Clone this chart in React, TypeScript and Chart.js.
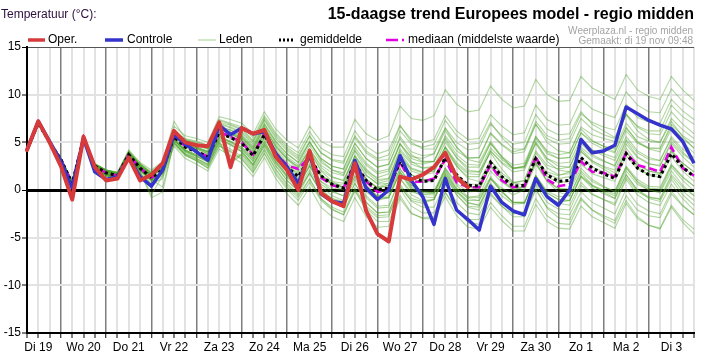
import React, { useEffect, useRef } from 'react';
import { Chart, registerables } from 'chart.js';

Chart.register(...registerables);

// ---------- data ----------
const dayLabels = ['Di 19', 'Wo 20', 'Do 21', 'Vr 22', 'Za 23', 'Zo 24', 'Ma 25', 'Di 26', 'Wo 27', 'Do 28', 'Vr 29', 'Za 30', 'Zo 1', 'Ma 2', 'Di 3'];
const slotCount = 60; // 6-hourly, starting Di 19 06:00
const firstSlotHour = 6;
const yTicks = [-15, -10, -5, 0, 5, 10, 15];

const titleText = '15-daagse trend Europees model - regio midden';
const unitText = 'Temperatuur (°C):';
const sourceText = 'Weerplaza.nl - regio midden';
const madeText = 'Gemaakt: di 19 nov 09:48';
const legendLabels = ['Oper.', 'Controle', 'Leden', 'gemiddelde', 'mediaan (middelste waarde)'];

const oper = [4.2, 7.2, 5.0, 2.5, -1.0, 5.6, 2.4, 1.0, 1.2, 3.4, 1.0, 1.6, 2.8, 6.2, 5.0, 4.7, 4.6, 7.1, 2.4, 6.5, 5.9, 6.3, 3.5, 2.1, 0.0, 4.1, -0.3, -1.2, -1.7, 2.8, -2.2, -4.6, -5.4, 1.4, 1.1, 1.6, 2.4, 3.9, 1.3, 0.3];
const controle = [4.2, 7.2, 5.1, 3.0, 0.2, 5.4, 1.9, 1.1, 1.4, 3.4, 1.4, 0.4, 2.1, 5.8, 4.8, 4.0, 3.1, 6.8, 5.8, 6.5, 5.9, 6.1, 3.8, 2.4, 0.7, 3.8, -0.4, -1.2, -1.4, 3.1, 0.2, -1.0, 0.0, 3.6, 1.0, -0.7, -3.6, 1.2, -2.1, -3.1, -4.2, 0.4, -1.3, -2.2, -2.6, 1.2, -0.7, -1.6, 0.0, 5.3, 3.9, 4.1, 4.7, 8.7, 8.0, 7.3, 6.8, 6.4, 5.1, 2.8];
const gemiddelde = [4.2, 7.0, 5.0, 3.2, 0.7, 5.4, 2.5, 1.8, 1.5, 3.7, 2.3, 1.3, 2.1, 5.6, 4.5, 4.0, 3.5, 6.0, 5.5, 4.9, 3.6, 5.8, 3.8, 2.4, 1.4, 3.4, 1.5, 0.6, 0.2, 2.8, 1.0, 0.0, 0.2, 3.0, 1.4, 0.9, 1.0, 3.4, 1.6, 0.5, 0.4, 2.9, 1.4, 0.4, 0.5, 3.3, 1.6, 0.9, 1.0, 3.4, 2.3, 1.7, 1.2, 3.8, 2.3, 1.6, 1.4, 3.8, 2.4, 1.4];
const mediaan = [4.2, 7.0, 5.0, 3.2, 0.7, 5.4, 2.5, 1.8, 1.5, 3.7, 2.3, 1.3, 2.0, 5.6, 4.6, 4.1, 3.5, 6.1, 5.6, 5.0, 3.7, 5.9, 3.9, 2.6, 2.2, 3.5, 1.3, 0.5, 0.2, 2.7, 0.9, -0.2, 0.0, 2.9, 0.8, 0.9, 1.2, 3.2, 0.8, 0.3, 0.3, 2.6, 1.0, 0.3, 0.4, 3.5, 1.1, 0.4, 0.6, 3.0, 1.9, 1.8, 1.4, 3.9, 2.6, 2.3, 1.9, 4.5, 2.3, 1.5];

const lid01 = [4.2, 7.0, 5.1, 3.3, 0.9, 5.6, 2.7, 2.1, 1.8, 4.1, 2.8, 1.9, 2.8, 6.3, 5.3, 4.9, 4.5, 7.1, 6.8, 6.3, 5.1, 7.4, 5.6, 4.3, 3.4, 5.6, 3.9, 3.2, 3.0, 5.7, 4.1, 3.3, 3.7, 6.7, 5.3, 5.0, 5.3, 7.8, 6.2, 5.3, 5.4, 7.9, 6.7, 5.8, 6.0, 8.9, 7.4, 6.8, 6.9, 9.5, 8.5, 8.0, 7.6, 10.3, 8.9, 8.2, 8.1, 10.6, 9.3, 8.4];
const lid02 = [4.2, 7.0, 4.9, 3.1, 0.5, 5.2, 2.3, 1.5, 1.2, 3.3, 1.8, 0.7, 1.5, 4.9, 3.7, 3.1, 2.5, 4.9, 4.3, 3.5, 2.1, 4.2, 2.1, 0.5, -0.6, 1.2, -0.9, -2.0, -2.6, -0.1, -2.1, -3.3, -3.3, -0.6, -2.4, -3.0, -3.0, -0.7, -2.7, -3.9, -4.1, -1.8, -3.2, -4.3, -4.3, -1.5, -3.3, -4.0, -4.1, -1.7, -2.8, -3.4, -4.0, -1.4, -3.0, -3.7, -4.0, -1.6, -3.1, -4.1];
const lid03 = [4.3, 7.2, 5.1, 3.3, 0.9, 5.6, 2.6, 2.0, 1.7, 3.9, 2.6, 1.6, 2.5, 6.0, 4.9, 4.5, 4.0, 6.6, 6.3, 5.8, 4.6, 6.9, 5.1, 3.8, 2.9, 5.0, 3.3, 2.5, 2.2, 4.9, 3.3, 2.4, 2.7, 5.6, 4.0, 3.6, 3.8, 6.2, 4.5, 3.4, 3.4, 5.9, 4.7, 3.8, 4.0, 6.9, 5.4, 4.8, 4.9, 7.5, 6.4, 5.8, 5.4, 8.0, 6.6, 5.9, 5.8, 8.2, 6.9, 5.9];
const lid04 = [4.1, 6.9, 4.9, 3.1, 0.6, 5.3, 2.3, 1.6, 1.3, 3.5, 2.0, 1.0, 1.8, 5.2, 4.1, 3.5, 3.0, 5.4, 4.8, 4.0, 2.6, 4.7, 2.6, 1.0, -0.1, 1.8, -0.3, -1.3, -1.8, 0.7, -1.3, -2.4, -2.3, 0.4, -1.2, -1.8, -1.8, 0.6, -1.3, -2.4, -2.6, -0.3, -1.7, -2.8, -2.8, 0.0, -1.8, -2.5, -2.6, -0.2, -1.3, -1.9, -2.5, 0.1, -1.5, -2.2, -2.5, -0.1, -1.6, -2.6];
const lid05 = [4.2, 7.1, 5.0, 3.2, 0.8, 5.5, 2.6, 1.9, 1.6, 3.8, 2.5, 1.5, 2.3, 5.8, 4.8, 4.3, 3.8, 6.3, 5.9, 5.3, 4.0, 6.2, 4.3, 2.9, 1.9, 4.0, 2.1, 1.3, 1.0, 3.6, 1.9, 0.9, 1.2, 4.1, 2.7, 2.3, 2.5, 5.0, 3.4, 2.4, 2.4, 4.9, 3.5, 2.6, 2.8, 5.6, 4.0, 3.3, 3.4, 6.0, 4.9, 4.3, 3.9, 6.5, 5.1, 4.4, 4.3, 6.7, 5.4, 4.4];
const lid06 = [4.2, 6.9, 5.0, 3.2, 0.6, 5.3, 2.4, 1.7, 1.4, 3.6, 2.1, 1.1, 1.9, 5.4, 4.2, 3.7, 3.2, 5.7, 5.1, 4.5, 3.2, 5.4, 3.4, 1.9, 0.9, 2.8, 0.9, -0.1, -0.6, 2.0, 0.1, -0.9, -0.8, 1.9, 0.3, -0.3, -0.3, 2.1, 0.2, -0.9, -1.1, 1.2, -0.2, -1.3, -1.3, 1.5, -0.3, -1.0, -1.1, 1.4, 0.2, -0.4, -0.9, 1.6, 0.0, -0.7, -1.0, 1.4, -0.1, -1.1];
const lid07 = [4.2, 7.0, 5.1, 3.3, 0.9, 5.6, 2.7, 2.1, 1.8, 4.1, 2.7, 1.8, 2.7, 6.2, 5.2, 4.7, 4.3, 6.6, 6.0, 5.2, 3.8, 5.8, 3.6, 2.1, 0.9, 3.2, 1.5, 0.9, 0.7, 3.6, 2.0, 1.3, 1.7, 4.8, 3.5, 3.3, 3.8, 6.5, 5.0, 4.2, 4.4, 6.9, 5.7, 4.8, 5.0, 7.9, 6.4, 5.8, 5.9, 8.2, 6.9, 6.2, 5.5, 7.9, 6.2, 5.3, 5.0, 7.2, 5.6, 4.4];
const lid08 = [4.2, 7.0, 4.9, 3.1, 0.6, 5.3, 2.3, 1.6, 1.3, 3.6, 2.3, 1.4, 2.3, 5.8, 4.8, 4.4, 4.0, 6.6, 6.1, 5.6, 4.4, 6.6, 4.7, 3.3, 2.4, 4.2, 2.0, 0.9, 0.2, 2.6, 0.5, -0.8, -0.8, 1.9, 0.2, -0.5, -0.5, 1.8, -0.2, -1.4, -1.6, 1.2, 0.2, -0.5, 0.0, 3.2, 1.9, 1.5, 1.9, 4.5, 3.5, 3.0, 2.6, 5.3, 3.9, 3.2, 3.1, 5.6, 4.3, 3.4];
const lid09 = [4.2, 7.0, 5.1, 3.3, 0.8, 5.5, 2.7, 2.0, 1.7, 3.8, 2.3, 1.1, 1.8, 5.2, 4.0, 3.3, 2.7, 5.2, 4.7, 4.0, 2.7, 4.9, 2.9, 1.4, 0.4, 2.6, 0.9, 0.2, 0.0, 2.7, 1.1, 0.3, 0.7, 3.6, 2.2, 1.8, 2.0, 4.5, 2.9, 1.9, 1.9, 3.9, 2.2, 0.8, 0.5, 2.9, 0.9, -0.2, -0.6, 1.8, 0.5, -0.2, -0.9, 1.6, 0.0, -0.9, -1.2, 1.1, -0.5, -1.6];
const lid10 = [4.2, 7.0, 4.9, 3.1, 0.5, 5.1, 2.2, 1.5, 1.1, 3.5, 2.3, 1.5, 2.5, 6.2, 5.3, 5.0, 4.7, 7.4, 7.0, 6.6, 5.5, 7.8, 6.0, 4.7, 3.9, 6.1, 4.4, 3.7, 3.5, 6.2, 4.6, 3.8, 4.2, 6.8, 5.0, 4.3, 4.3, 6.5, 4.5, 3.2, 2.9, 5.1, 3.5, 2.3, 2.3, 4.9, 3.0, 2.1, 1.9, 4.3, 3.1, 2.4, 1.8, 4.4, 2.8, 2.0, 1.7, 4.0, 2.5, 1.4];
const lid11 = [4.2, 7.1, 5.1, 3.4, 0.9, 5.7, 2.8, 2.1, 1.9, 3.9, 2.3, 1.1, 0.3, 5.0, 3.7, 3.0, 2.3, 4.6, 4.0, 3.2, 1.8, 3.8, 1.6, 0.1, -1.1, 0.8, -1.1, -2.1, -2.6, 0.0, -1.9, -2.9, -2.8, 0.3, -1.1, -1.4, -1.0, 1.7, 0.1, -0.8, -0.6, 2.0, 0.8, 0.0, 0.3, 3.2, 1.7, 1.2, 1.4, 4.0, 3.0, 2.5, 2.1, 4.8, 3.4, 2.7, 2.6, 5.1, 3.8, 2.9];
const lid12 = [4.2, 7.0, 5.0, 3.2, 0.7, 5.4, 2.5, 1.8, 1.5, 3.7, 2.3, 1.3, 2.2, 5.7, 4.6, 4.1, 3.7, 6.2, 5.7, 5.1, 3.8, 5.9, 3.9, 2.5, 1.4, 3.4, 1.5, 0.6, 0.3, 2.9, 1.1, 0.2, 0.5, 3.3, 1.6, 1.1, 1.1, 3.4, 1.5, 0.3, 0.1, 2.5, 1.1, 0.1, 0.3, 3.1, 1.4, 0.8, 0.9, 3.4, 2.4, 1.9, 1.4, 4.0, 2.6, 2.0, 1.8, 4.2, 2.8, 1.9];
const lid13 = [4.2, 7.0, 5.1, 3.3, 0.9, 5.6, 2.7, 2.1, 1.8, 4.2, 2.9, 2.1, 3.0, 6.7, 5.7, 5.4, 5.0, 7.7, 7.4, 7.0, 5.9, 8.2, 6.4, 5.2, 4.4, 6.7, 5.1, 4.5, 4.5, 7.4, 5.9, 5.2, 5.7, 8.8, 7.5, 7.3, 7.8, 10.5, 9.0, 8.2, 8.4, 10.9, 9.5, 8.6, 8.8, 11.6, 10.0, 9.3, 9.4, 11.9, 10.7, 10.1, 9.5, 12.1, 10.5, 9.8, 9.5, 11.9, 10.5, 9.4];
const lid14 = [4.2, 7.0, 4.9, 3.1, 0.5, 5.2, 2.3, 1.5, 1.2, 3.3, 1.7, 0.6, 1.2, 4.6, 3.3, 2.7, 2.0, 4.3, 3.6, 2.8, 1.4, 3.4, 1.2, -0.4, -1.6, 0.3, -1.8, -2.8, -3.3, -0.8, -2.8, -3.9, -3.8, -0.9, -2.5, -2.9, -2.8, -0.3, -2.0, -3.1, -3.1, -0.5, -1.7, -2.5, -2.3, 0.7, -0.8, -1.3, -1.1, 1.5, 0.5, 0.0, -0.4, 2.3, 0.9, 0.2, 0.1, 2.6, 1.3, 0.4];
const lid15 = [4.2, 7.0, 5.0, 3.2, 0.8, 5.5, 2.6, 1.9, 1.6, 3.9, 2.5, 1.6, 2.5, 6.0, 5.0, 4.5, 4.1, 6.7, 6.3, 5.7, 4.5, 6.8, 4.9, 3.5, 2.6, 4.7, 2.9, 2.1, 1.8, 4.5, 2.8, 1.9, 2.2, 4.8, 3.0, 2.3, 2.3, 4.5, 2.5, 1.2, 0.9, 3.1, 1.5, 0.3, 0.3, 2.9, 1.0, 0.1, -0.1, 2.3, 1.1, 0.4, -0.2, 2.4, 0.8, 0.0, -0.3, 2.0, 0.5, -0.6];
const lid16 = [4.2, 7.0, 5.0, 3.2, 0.6, 5.3, 2.4, 1.7, 1.4, 3.5, 2.1, 1.0, 1.8, 5.2, 4.0, 3.5, 2.9, 5.3, 4.8, 4.1, 2.7, 4.8, 2.8, 1.3, 0.2, 2.1, 0.1, -0.9, -1.4, 1.1, -0.8, -1.9, -1.8, 1.2, -0.2, -0.5, -0.3, 2.3, 0.7, -0.2, -0.1, 2.6, 1.4, 0.7, 1.0, 4.1, 2.6, 2.2, 2.4, 5.1, 4.2, 3.8, 3.4, 6.2, 4.9, 4.4, 4.4, 6.9, 5.7, 4.9];
const lid17 = [4.2, 7.0, 5.0, 3.3, 0.8, 5.5, 2.7, 2.0, 1.7, 3.9, 2.5, 1.5, 2.3, 5.9, 4.8, 4.3, 3.8, 6.4, 6.0, 5.5, 4.3, 6.5, 4.6, 3.3, 2.4, 4.3, 2.4, 1.4, 1.0, 3.5, 1.6, 0.6, 0.7, 3.6, 2.0, 1.6, 1.8, 4.2, 2.5, 1.4, 1.4, 4.1, 2.9, 2.2, 2.5, 5.6, 4.1, 3.7, 3.9, 6.6, 5.8, 5.4, 5.1, 7.9, 6.7, 6.2, 6.2, 8.9, 7.7, 6.9];
const lid18 = [4.2, 7.0, 5.0, 3.1, 0.6, 5.3, 2.3, 1.6, 1.3, 3.5, 2.1, 1.1, 1.9, 5.3, 4.2, 3.7, 3.2, 5.6, 5.0, 4.3, 3.0, 5.1, 3.0, 1.5, 0.4, 2.5, 0.6, -0.2, -0.6, 2.1, 0.4, -0.6, -0.3, 2.3, 0.5, -0.2, -0.3, 2.0, 0.0, -1.3, -1.6, 0.6, -1.1, -2.4, -2.5, 0.1, -1.9, -2.9, -3.1, -0.8, -2.1, -2.9, -3.5, -1.1, -2.8, -3.7, -4.1, -1.8, -3.4, -4.6];
const lid19 = [4.2, 7.0, 5.0, 3.2, 0.7, 5.5, 2.6, 1.9, 1.6, 3.9, 2.6, 1.7, 2.6, 6.2, 5.2, 4.8, 4.4, 7.0, 6.6, 6.1, 5.0, 7.3, 5.4, 4.1, 3.2, 5.1, 3.1, 2.1, 1.6, 4.1, 2.2, 1.1, 1.2, 4.3, 2.9, 2.7, 3.0, 5.7, 4.1, 3.3, 3.4, 6.0, 4.8, 4.0, 4.3, 7.2, 5.7, 5.2, 5.4, 8.0, 7.1, 6.6, 6.3, 9.0, 7.6, 7.1, 7.0, 9.5, 8.3, 7.4];
const lid20 = [4.2, 7.0, 5.0, 3.2, 0.7, 5.3, 2.4, 1.7, 1.4, 3.5, 2.0, 0.9, 1.6, 5.0, 3.8, 3.2, 2.6, 5.0, 2.8, 3.7, 2.3, 4.3, 2.2, 0.7, -0.4, 1.7, -0.1, -0.9, -1.2, 1.5, -0.2, -1.1, -0.8, 1.8, 0.0, -0.7, -0.8, 1.5, -0.5, -1.8, -2.1, 0.2, -1.2, -2.3, -2.3, 0.5, -1.3, -2.0, -2.1, 0.5, -0.5, -1.0, -1.4, 1.3, -0.2, -0.8, -0.9, 1.6, 0.3, -0.6];
const lid21 = [4.2, 7.1, 5.1, 3.3, 0.8, 5.5, 2.6, 2.0, 1.7, 3.9, 2.5, 1.5, 2.4, 5.9, 4.8, 4.4, 3.9, 6.5, 6.0, 5.5, 4.2, 6.5, 4.5, 3.2, 2.2, 4.3, 2.6, 1.8, 1.5, 4.2, 2.6, 1.7, 2.0, 4.9, 3.3, 2.9, 3.0, 5.5, 3.7, 2.7, 2.6, 4.9, 3.4, 2.3, 2.4, 5.1, 3.3, 2.5, 2.4, 4.9, 3.7, 3.1, 2.5, 5.1, 3.5, 2.8, 2.5, 4.9, 3.5, 2.4];
const lid22 = [4.2, 6.9, 4.9, 3.1, 0.6, 5.2, 2.3, 1.6, 1.3, 3.5, 2.1, 1.1, 1.8, 5.3, 4.2, 3.6, 3.1, 5.5, 5.0, 4.3, 3.0, 5.1, 3.1, 1.6, 0.6, 2.5, 0.4, -0.6, -1.1, 1.4, -0.6, -1.7, -1.6, 1.2, -0.5, -1.1, -1.0, 1.4, -0.5, -1.7, -1.8, 0.7, -0.6, -1.5, -1.4, 1.5, -0.1, -0.7, -0.6, 2.0, 0.9, 0.3, -0.1, 2.5, 1.1, 0.4, 0.3, 2.7, 1.4, 0.4];
const lid23 = [4.3, 7.1, 5.1, 3.3, 0.9, 5.6, 2.7, 2.1, 1.8, 4.0, 2.5, 1.5, 2.3, 5.7, 4.6, 4.0, 3.5, 6.0, 5.4, 4.8, 3.4, 5.6, 3.5, 2.1, 1.1, 3.2, 1.5, 0.7, 0.5, 3.2, 1.5, 0.7, 1.0, 3.9, 2.3, 1.9, 2.0, 4.5, 2.7, 1.7, 1.6, 4.1, 2.8, 1.9, 2.1, 4.9, 3.3, 2.8, 2.9, 5.4, 4.2, 3.6, 3.1, 5.6, 4.1, 3.4, 3.1, 5.4, 4.0, 2.9];
const lid24 = [4.1, 6.9, 4.9, 3.1, 0.5, 5.2, 2.3, 1.5, 1.2, 3.4, 2.1, 1.1, 1.9, 5.5, 4.4, 4.0, 3.5, 6.0, 5.6, 5.0, 3.7, 6.0, 4.1, 2.7, 1.7, 3.6, 1.5, 0.5, 0.0, 2.4, 0.5, -0.7, -0.6, 2.2, 0.5, -0.1, -0.1, 2.3, 0.5, -0.7, -0.8, 1.4, -0.1, -1.3, -1.4, 1.3, -0.6, -1.4, -1.6, 0.8, -0.4, -1.0, -1.6, 1.1, -0.5, -1.3, -1.6, 0.6, -0.9, -2.1];
const lid25 = [4.2, 7.0, 5.0, 3.2, 0.7, 5.5, 2.6, 1.9, 1.6, 3.9, 2.7, 1.8, 2.8, 7.2, 5.4, 5.1, 4.7, 7.3, 6.9, 6.4, 5.2, 7.6, 5.8, 4.5, 3.6, 5.7, 3.9, 3.1, 2.8, 5.5, 3.9, 3.1, 3.2, 6.2, 4.8, 4.5, 4.8, 7.3, 5.7, 4.8, 4.9, 7.1, 5.5, 4.3, 4.3, 6.9, 5.0, 4.1, 3.9, 6.4, 5.2, 4.6, 4.0, 6.6, 5.0, 4.3, 4.0, 6.4, 4.9, 3.9];
const lid26 = [4.2, 7.0, 5.0, 3.2, 0.7, 5.3, 2.4, 1.7, 1.4, 3.5, 1.9, -0.5, 1.5, 4.8, 3.6, 3.1, 2.3, 4.7, 4.1, 3.3, 1.9, 3.9, 1.8, 0.3, -0.8, 1.1, -0.9, -1.8, -2.3, 0.2, -1.7, -2.7, -2.6, 0.1, -1.7, -2.4, -2.4, -0.2, -2.1, -3.4, -3.6, -1.3, -2.7, -3.8, -3.8, -0.9, -2.7, -3.5, -3.6, -1.0, -2.1, -2.7, -3.2, -0.6, -2.1, -2.7, -2.9, -0.4, -1.7, -2.6];
const lid27 = [4.2, 7.0, 5.0, 3.2, 0.7, 5.4, 2.5, 1.8, 1.5, 3.8, 2.4, 1.5, 2.4, 5.9, 4.9, 4.4, 4.0, 6.5, 5.9, 5.3, 4.0, 6.1, 4.1, 2.6, 1.6, 3.5, 1.6, 0.6, 0.2, 2.7, 0.8, -0.2, -0.1, 2.8, 1.2, 0.8, 1.0, 3.4, 1.7, 0.6, 0.6, 3.1, 1.8, 0.8, 1.0, 3.9, 2.3, 1.6, 1.7, 4.1, 2.9, 2.2, 1.5, 4.0, 2.4, 1.6, 1.3, 3.5, 2.0, 0.9];
const lid28 = [4.2, 7.0, 5.0, 3.2, 0.7, 5.4, 2.5, 1.8, 1.5, 3.6, 2.2, 1.1, 1.8, 5.3, 4.1, 3.6, 3.0, 5.5, 5.1, 4.5, 3.3, 5.5, 3.5, 2.2, 1.2, 3.3, 1.4, 0.6, 0.3, 2.9, 1.2, 0.2, 0.5, 3.2, 1.6, 1.0, 1.1, 3.4, 1.5, 0.4, 0.2, 2.5, 1.0, 0.0, 0.0, 2.7, 0.9, 0.2, 0.1, 2.7, 1.7, 1.3, 0.9, 3.6, 2.2, 1.6, 1.6, 4.1, 2.8, 1.9];
const lid29 = [4.2, 7.0, 5.1, 3.3, 0.8, 5.5, 2.7, 2.0, 1.7, 4.0, 2.7, 1.7, 2.6, 6.2, 5.2, 4.7, 4.3, 6.9, 6.5, 6.0, 4.8, 7.0, 5.1, 3.8, 2.9, 5.0, 3.3, 2.5, 2.2, 4.9, 3.3, 2.4, 2.7, 5.4, 3.7, 3.0, 3.0, 5.3, 3.4, 2.1, 1.9, 4.4, 3.2, 2.3, 2.5, 5.4, 3.8, 3.3, 3.4, 6.0, 5.1, 4.6, 4.3, 7.0, 5.6, 5.1, 5.0, 7.5, 6.3, 5.4];
const lid30 = [4.2, 7.0, 4.9, 3.1, 0.6, 5.2, 2.3, 1.6, 1.3, 3.4, 1.9, -0.8, -0.2, 5.0, 3.8, 3.3, 2.7, 5.1, 3.0, 3.8, 2.5, 4.6, 2.5, 1.0, -0.1, 1.8, -0.2, -1.3, -1.8, 0.7, -1.3, -2.4, -2.3, 0.6, -0.9, -1.2, -1.0, 1.5, -0.2, -1.1, -1.1, 1.2, -0.2, -1.3, -1.3, 1.5, -0.3, -1.0, -1.1, 1.4, 0.4, -0.1, -0.6, 2.0, 0.6, 0.0, -0.2, 2.4, 1.0, -0.1];

const leden = [lid01, lid02, lid03, lid04, lid05, lid06, lid07, lid08, lid09, lid10, lid11, lid12, lid13, lid14, lid15, lid16, lid17, lid18, lid19, lid20, lid21, lid22, lid23, lid24, lid25, lid26, lid27, lid28, lid29, lid30];

// ---------- derived labels ----------
const slotLabels: string[] = [];
for (let i = 0; i < slotCount; i++) {
  const h = firstSlotHour + 6 * i;
  const day = Math.floor(h / 24);
  slotLabels.push(h % 24 === 12 && day < dayLabels.length ? dayLabels[day] : '');
}
const isMidnight = (i: number) => (firstSlotHour + 6 * i) % 24 === 0;

const FONT = '"Liberation Sans", Arial, Helvetica, sans-serif';
const RED = '#d63a3a';
const BLUE = '#3434cc';
const GREEN = 'rgba(70,160,30,0.42)';

const overlayPlugin = {
  id: 'overlayTexts',
  beforeDraw(chart: any) {
    const ctx = chart.ctx;
    ctx.save();
    ctx.fillStyle = '#ffffff';
    ctx.fillRect(0, 0, chart.width, chart.height);
    ctx.restore();
  },
  afterDraw(chart: any) {
    const ctx: CanvasRenderingContext2D = chart.ctx;
    const right = chart.chartArea.right;
    ctx.save();
    ctx.textBaseline = 'middle';
    ctx.font = `12px ${FONT}`;
    ctx.fillStyle = '#2c0f3c';
    ctx.textAlign = 'left';
    ctx.fillText(unitText, 1, 15);
    ctx.font = `bold 16px ${FONT}`;
    ctx.fillStyle = '#000';
    ctx.textAlign = 'right';
    ctx.fillText(titleText, right, 15);
    ctx.font = `10px ${FONT}`;
    ctx.fillStyle = '#a4a4a4';
    ctx.fillText(sourceText, right - 1, 31);
    ctx.fillText(madeText, right - 1, 41);
    const ly = 40;
    const items = [
      { x0: 28, x1: 45, tx: 48, color: RED, w: 3.5, dash: [] as number[] },
      { x0: 105, x1: 123, tx: 127, color: BLUE, w: 3.5, dash: [] as number[] },
      { x0: 198, x1: 216, tx: 219, color: '#c3e2b6', w: 1.5, dash: [] as number[] },
      { x0: 279, x1: 295, tx: 300, color: '#000', w: 3, dash: [2, 2] },
      { x0: 386, x1: 405, tx: 408, color: '#e000e0', w: 2.5, dash: [12, 4, 2, 4] },
    ];
    ctx.font = `12px ${FONT}`;
    ctx.textAlign = 'left';
    items.forEach((it, k) => {
      ctx.beginPath();
      ctx.setLineDash(it.dash);
      ctx.strokeStyle = it.color;
      ctx.lineWidth = it.w;
      ctx.moveTo(it.x0, ly);
      ctx.lineTo(it.x1, ly);
      ctx.stroke();
      ctx.setLineDash([]);
      ctx.fillStyle = '#000';
      ctx.fillText(legendLabels[k], it.tx, ly);
    });
    ctx.restore();
  },
};

export default function App() {
  const canvasRef = useRef<HTMLCanvasElement | null>(null);

  useEffect(() => {
    document.body.style.margin = '0';
    const canvas = canvasRef.current;
    if (!canvas) return;

    const memberSets = leden.map((d, k) => ({
      label: 'Lid ' + (k + 1),
      data: d,
      borderColor: GREEN,
      borderWidth: 1.1,
      pointRadius: 0,
      tension: 0,
      fill: false,
    }));

    const chart = new Chart(canvas, {
      type: 'line',
      data: {
        labels: slotLabels.map((_, i) => String(i)),
        datasets: [
          { label: legendLabels[0], data: oper, borderColor: RED, borderWidth: 4, pointRadius: 0, tension: 0, borderJoinStyle: 'round', borderCapStyle: 'round' } as any,
          { label: legendLabels[1], data: controle, borderColor: BLUE, borderWidth: 3.5, pointRadius: 0, tension: 0, borderJoinStyle: 'round' } as any,
          { label: legendLabels[3], data: gemiddelde, borderColor: '#000', borderWidth: 3, borderDash: [3, 3], pointRadius: 0, tension: 0 } as any,
          { label: legendLabels[4], data: mediaan, borderColor: '#e000e0', borderWidth: 2.5, borderDash: [8, 4], pointRadius: 0, tension: 0 } as any,
          ...memberSets,
        ],
      },
      options: {
        responsive: false,
        animation: false,
        devicePixelRatio: 1,
        layout: { padding: { top: 47, right: 7, left: 0, bottom: 0 } },
        plugins: { legend: { display: false }, tooltip: { enabled: false }, title: { display: false } },
        elements: { line: { borderCapStyle: 'butt' } },
        scales: {
          x: {
            type: 'category',
            offset: false,
            grid: {
              color: (c: any) => (isMidnight(c.index) && c.index < slotCount - 1 ? '#7e7e7e' : '#e2e2e2'),
              lineWidth: (c: any) => (isMidnight(c.index) && c.index < slotCount - 1 ? 1.5 : 2),
              tickColor: '#000',
              tickLength: 5,
              tickWidth: 1,
            },
            border: { display: true, color: '#000', width: 2 },
            ticks: {
              autoSkip: false,
              maxRotation: 0,
              minRotation: 0,
              color: '#000',
              padding: 2,
              font: { family: FONT, size: 12 },
              callback: (_v: any, i: number) => slotLabels[i],
            },
            afterFit: (s: any) => {
              s.height = 24;
            },
          },
          y: {
            min: yTicks[0],
            max: yTicks[yTicks.length - 1],
            afterBuildTicks: (s: any) => {
              s.ticks = yTicks.map((v) => ({ value: v }));
            },
            grid: {
              color: (c: any) => (c.tick && c.tick.value === 0 ? '#000' : c.tick && c.tick.value === 15 ? '#555' : '#e2e2e2'),
              lineWidth: (c: any) => (c.tick && c.tick.value === 0 ? 3 : c.tick && c.tick.value === 15 ? 1 : 2),
              tickColor: '#000',
              tickLength: 5,
              tickWidth: 1,
            },
            border: { display: true, color: '#000', width: 2 },
            ticks: {
              color: '#000',
              padding: 1,
              font: { family: FONT, size: 12 },
              callback: (v: any) => String(v),
            },
            afterFit: (s: any) => {
              s.width = 27;
            },
          },
        },
      },
      plugins: [overlayPlugin],
    });

    return () => chart.destroy();
  }, []);

  return (
    <div style={{ width: 701, height: 357 }}>
      <canvas ref={canvasRef} width={701} height={357} style={{ display: 'block' }} />
    </div>
  );
}
